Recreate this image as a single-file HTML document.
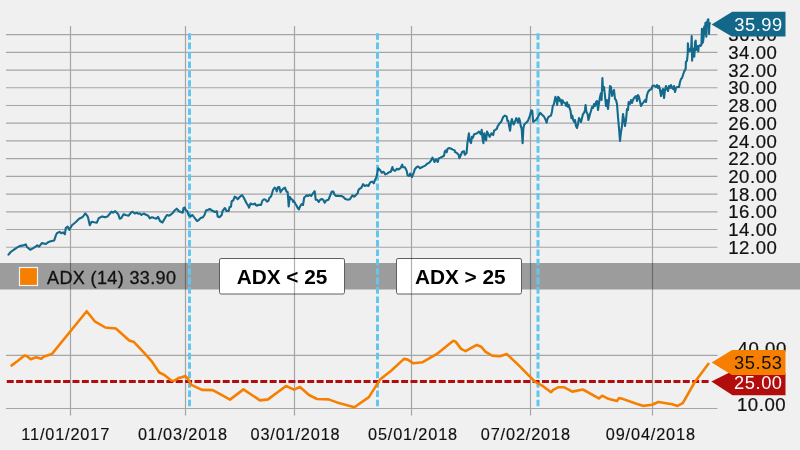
<!DOCTYPE html>
<html><head><meta charset="utf-8"><style>
html,body{margin:0;padding:0;background:#f0f0f0;width:800px;height:450px;overflow:hidden}
svg{display:block;will-change:transform}
</style></head><body>
<svg width="800" height="450" viewBox="0 0 800 450">
<rect x="0" y="0" width="800" height="450" fill="#f0f0f0"/>
<rect x="0" y="263" width="800" height="26.5" fill="#9c9c9c"/>
<rect x="219.5" y="258.5" width="125" height="35.5" rx="1.6" fill="#fff" stroke="#606060" stroke-width="1"/>
<rect x="396.5" y="258.5" width="125" height="35.5" rx="1.6" fill="#fff" stroke="#606060" stroke-width="1"/>
<path d="M6 34.60H717.5 M6 52.32H717.5 M6 70.04H717.5 M6 87.76H717.5 M6 105.48H717.5 M6 123.20H717.5 M6 140.92H717.5 M6 158.64H717.5 M6 176.36H717.5 M6 194.08H717.5 M6 211.80H717.5 M6 229.52H717.5 M6 247.24H717.5 M6 355.3H717.5 M6 408.5H717.5 M70.5 26V415.5 M185.5 26V415.5 M294.5 26V415.5 M411.5 26V415.5 M530.5 26V415.5 M652.5 26V415.5" fill="none" stroke="rgba(0,0,0,0.31)" stroke-width="1.2"/>
<line x1="189.5" y1="33.2" x2="189.5" y2="406.3" stroke="#62c6ee" stroke-width="3" stroke-dasharray="6.65 2.75"/>
<line x1="377.5" y1="33.2" x2="377.5" y2="406.3" stroke="#62c6ee" stroke-width="3" stroke-dasharray="6.65 2.75"/>
<line x1="538.0" y1="33.2" x2="538.0" y2="406.3" stroke="#62c6ee" stroke-width="3" stroke-dasharray="6.65 2.75"/>
<line x1="6.75" y1="381.5" x2="709" y2="381.5" stroke="#b20c0c" stroke-width="3.2" stroke-dasharray="6.95 2.44"/>
<polyline points="8.5,254.7 10.7,252 13.3,250.2 16.9,247.6 19.6,246.1 23.1,245.4 25.8,244.4 26.7,246.7 30.2,249.7 32.9,248.4 35.6,246.7 37.3,245.4 39.1,246.7 41.8,243.1 45.9,244 48,242.2 50.7,241.3 54.2,240.4 56,235.1 56.9,233.3 59.6,231.9 61.3,233.3 63.1,232.4 64.9,234.2 65.8,228 67.6,226.6 69.3,229.8 72,225.3 75.6,222.3 79.1,218.8 82.7,217 85.3,213.4 87.1,215.6 88,217.3 89.8,225.3 91.6,221.8 94.2,222.3 96.9,222.7 98.7,218.2 102.2,216.4 104.9,217.3 107.6,216.4 110,213.5 111.5,211.7 113,212.7 115.2,211.2 116.7,212.7 118.2,214.2 119.7,218.7 121.2,218.3 123.5,214.2 125.7,215 128.7,215.7 131,212.7 132.5,211.7 134.7,213.5 137,212.7 138.5,213.8 140,213.5 141.5,215 143.7,213.5 146,214.7 148.2,215.7 149.7,218.3 152,217.2 154.2,218 156.5,218.7 158,216.8 160,221 162.5,222.5 165.5,217.2 167,215 169.2,215.7 170.7,214.7 173,212.7 174.5,210.5 176.7,208.7 179,211.2 182.7,212.7 183.5,208.2 184.7,207.5 185.7,210.2 187.2,211.2 188.7,215 190.2,216.5 192.5,215 194.7,218 197,221 198.5,220.2 200.7,218 203,217.2 204.5,215 206,210.5 208.2,209.7 209.7,209 212,210.5 215,212 216.8,211.2 217.7,216.5 219.5,217.2 221.7,215 222.5,211.2 224.7,208.2 225,208 226.5,211 228.7,211 229.5,207.2 231,206.5 231.7,201.2 233.2,200.5 234.7,196.7 236.2,197.5 237.7,199.3 239.2,197.5 240.7,196 242.2,195.2 243.7,197.5 245.2,200.5 246.7,203.5 248.2,205.7 249,207.7 250.5,203.5 252,204.2 253.5,204.2 255,203.5 255.7,205 257.2,205.7 258.7,204.7 261,205 262.5,200.5 264,199.3 265.5,199.7 267,201.7 268.5,200.8 269.2,198.2 270.7,196.7 271.5,195.2 273,190 274.5,187.7 276,188.5 276.7,191.5 278.2,187 279.3,187 280.5,192.2 282,190 283.5,188.5 285,187.7 286.5,191.5 287.7,192.2 288.7,206.5 289.8,196.7 291,199 292.5,199.7 293.2,202 294,201.2 295.2,203.5 296.2,205 297.7,208 298.8,209.5 300,206.5 301.5,204.2 303,205 304.2,197.5 305.2,196.7 306.7,195.2 308.2,196 309.7,194.8 311.2,196 312.7,193.7 314.7,191.2 315.7,199.7 317.2,199.7 318.7,202 320.2,199.7 321.7,199 323.2,199.7 324.7,202.7 326.2,200.5 328.5,199.7 330,196 331.8,191.5 333.3,191.5 334.5,194.5 336,196 337.5,195.7 339.7,196 341.8,196.1 343.6,197.2 345.3,199 348,199.7 349.8,199.3 351.6,196.7 352.4,195.4 354.2,196.7 356,194.9 357.8,193.1 358.3,190.4 359.6,188.7 361.3,187.8 363.1,184.2 364.9,186 366.7,185.1 368.4,186 370.2,182.4 372,181.6 373.8,183.3 374.7,180.7 376.4,177.1 377.3,172.7 378.2,168.2 380,170 381.8,172.7 383.6,171.8 385.3,174.4 387.1,173.6 388.9,172.3 390.7,171.8 392.4,167 393.3,170 395.1,170.9 396.9,168.8 398.7,169.5 400.4,168.2 402.2,164.7 403.1,167.3 404.9,167.3 406.7,170.9 407.6,175.3 409.3,175.9 410.2,173.6 411.1,175.3 412,177.1 413.8,172.7 414.7,169.5 416.4,167.3 418.2,166.4 420,168.2 421.8,167.3 423.6,166.4 425.3,165.6 427.1,163.8 428.9,162.9 430.7,161.1 432.4,157.6 433.3,159.3 434.6,162 436,159.3 437.8,162 438.7,158.4 440.4,157.6 442.2,156.7 444,155.8 444.9,151.3 445.8,150.4 446.7,152.2 447.6,148.7 449.3,148.1 451.1,148.7 452.9,149.6 454.7,150.4 455,152 456.8,152.9 458.6,154.7 459.4,158.2 460.3,156.4 462.1,152 463.9,151.1 464.8,154.7 466.6,152.9 467.4,143.1 468.9,133.3 469.6,140.4 471,143.1 471.9,136.9 472.8,137.8 474.2,134.2 477.2,133.3 479,131.6 480.8,134.2 481.7,129.8 482.6,138.7 483.4,143.1 484.3,133.3 485.2,137.8 486.1,140.4 487,131.6 487.9,133.3 489.7,136.9 491.4,133.3 493.2,135.1 494.1,130.7 496.8,128.9 497.7,126.2 499.4,123.6 501.2,121.8 503,117.3 504.8,115.6 506.6,116.4 507.4,120.9 508.3,120.9 509.2,126.2 510.1,130.7 511,122.7 511.9,119.1 512.8,122.7 513.7,124.4 514.6,122.7 516.3,118.2 517.2,120 518.1,122.7 519,118.2 519.9,120.9 520.8,126.2 521.7,128.9 522.6,143.1 523.4,128 524.3,124.4 526.1,122.7 527.9,120.9 529.7,116.4 530.6,112.9 531.4,110.2 532.3,111.1 533.2,121.8 535.9,120 537.7,117.3 538.6,115.6 540.3,112.9 542.1,114.7 543.9,116.4 545.7,120 546.6,122.7 547.4,119.1 548.3,117.3 549.2,116.4 551,115.6 551.9,112 552.8,105.8 553.7,104.9 555.4,96.9 556.3,99.6 557.2,104.9 558.1,96.9 559,97.8 559.9,101.3 560.8,99.6 561.7,104.9 562.6,100.4 563.4,102.2 565.2,103.1 566.1,105.8 567,102.2 567.9,106.7 568.8,104.9 569.7,108.4 570.6,111.1 571.4,118.2 572.3,115.6 573.2,120 574.1,121.8 575,120 576,126 577,128 578,124 579,118 580,120 581,122 582,118 583,114 584,113 585,110 585.6,105 586.4,112 587.6,114 588.4,120 589,118 590,114 591,111 592,107 593,108 594,104 595,106 596,102 597,101 598,110 599,103 600,97 601,93 601.6,100 602.4,78 603,90 604,87 605,96 606,106 607,100 608,109 609,100 610,86 611,87 612,96 613,93 614,90 615,99 616,100 617,104 618,117 619,128 620,141 621,132 622,126 623,114 624,120 625,126 626,120 627,109 628,110 628.6,102 630,104 631,100 632,103 633,100 634,98 636,96 637,101 638,95 639,97 641,106 642,104 643,103 645,100 646,102 647,95 648,92 649.6,90 651.6,89 652.4,86 654,85.6 656,87 657,85 658,88 659,86 660,90 661,96 662,91 663,89 664,98 665,90 666,86 667,89 668,91 669,86 670,88 671,85 672,88 673,89 674,86 675,92 676,88 677,87 679,87 680,82 681,79 682,78 683,75 684,72 685,70 685.7,68.7 685.9,62 687,60.7 687.7,54 687.9,43.3 688.3,48.7 689,50 689.7,51.3 690.3,48.7 691,50 691.4,43.3 691.7,36 692.1,60.7 692.3,58 692.7,50 693.7,48.7 694.3,56.7 694.7,50 695,42 695.7,40.7 696.1,50 696.3,47.3 697,46 697.7,50 698.3,51.3 698.7,46 699.7,45.3 700.6,46 701.4,44.7 701.7,36.7 701.9,28.7 702.3,43.3 703,42 703.7,36.7 704.1,27.3 704.6,26 705,34 705.4,22.7 705.9,24.7 706.3,36.7 706.7,22 707.3,24.7 707.7,20 708.3,19.3 709,34 709.4,24.7 709.9,23.3" fill="none" stroke="#136a8c" stroke-width="2.1" stroke-linejoin="round" stroke-linecap="round"/>
<polyline points="10.7,366.1 17.3,361.3 24.5,355.5 26.7,356 30.7,359.2 36,357.3 41.3,358.7 44,356.5 52,353.9 86.7,311.2 94.7,321.3 105.3,327.5 115.9,328.5 129.2,340.5 134,342.1 144.7,353.3 151.3,360.8 159.3,372.5 164.7,375.2 171.3,380.5 174,380.8 178.8,377.9 182,377.3 185.2,376 187.9,378.7 191.3,384.8 202,389.9 212.7,390.1 222,395.2 230,399.6 243.4,389.4 260,400.4 268,399.4 286,386 294,389.6 300,387 309,395 317,399 328.6,399.4 337,402.4 354.4,407.3 368.9,397.1 380,379.6 391.1,370.7 404,358.9 407.8,359.6 413.3,363.3 422.7,362.2 437.8,353.3 453.3,340.7 455.6,341.6 461.1,348.9 465.6,351.1 476.7,344.9 481.1,346.7 485.6,351.8 492.2,355.6 500,356.2 506.7,354 517.8,364.4 528.9,375.6 535.6,382.2 542.2,385.6 551.1,392.2 553.2,389.9 558.5,387.2 563.8,387.2 572.3,391.6 582.9,389.5 598.9,398.4 602.1,395.7 607.4,398.4 616.9,401 619.1,398 623.3,399.1 635,403.3 643.5,405.9 652,404.8 658.4,402 672.2,404.2 677.5,405.9 682.8,403.1 694.5,382.5 709,363" fill="none" stroke="#f77f00" stroke-width="2.6" stroke-linejoin="round" stroke-linecap="butt"/>
<text x="777.5" y="41.2" font-family="Liberation Sans, sans-serif" font-size="18.6" letter-spacing="0.55" stroke="#111" stroke-width="0.2" text-anchor="end" fill="#111">36.00</text>
<text x="777.5" y="58.9" font-family="Liberation Sans, sans-serif" font-size="18.6" letter-spacing="0.55" stroke="#111" stroke-width="0.2" text-anchor="end" fill="#111">34.00</text>
<text x="777.5" y="76.6" font-family="Liberation Sans, sans-serif" font-size="18.6" letter-spacing="0.55" stroke="#111" stroke-width="0.2" text-anchor="end" fill="#111">32.00</text>
<text x="777.5" y="94.4" font-family="Liberation Sans, sans-serif" font-size="18.6" letter-spacing="0.55" stroke="#111" stroke-width="0.2" text-anchor="end" fill="#111">30.00</text>
<text x="777.5" y="112.1" font-family="Liberation Sans, sans-serif" font-size="18.6" letter-spacing="0.55" stroke="#111" stroke-width="0.2" text-anchor="end" fill="#111">28.00</text>
<text x="777.5" y="129.8" font-family="Liberation Sans, sans-serif" font-size="18.6" letter-spacing="0.55" stroke="#111" stroke-width="0.2" text-anchor="end" fill="#111">26.00</text>
<text x="777.5" y="147.5" font-family="Liberation Sans, sans-serif" font-size="18.6" letter-spacing="0.55" stroke="#111" stroke-width="0.2" text-anchor="end" fill="#111">24.00</text>
<text x="777.5" y="165.2" font-family="Liberation Sans, sans-serif" font-size="18.6" letter-spacing="0.55" stroke="#111" stroke-width="0.2" text-anchor="end" fill="#111">22.00</text>
<text x="777.5" y="183.0" font-family="Liberation Sans, sans-serif" font-size="18.6" letter-spacing="0.55" stroke="#111" stroke-width="0.2" text-anchor="end" fill="#111">20.00</text>
<text x="777.5" y="200.7" font-family="Liberation Sans, sans-serif" font-size="18.6" letter-spacing="0.55" stroke="#111" stroke-width="0.2" text-anchor="end" fill="#111">18.00</text>
<text x="777.5" y="218.4" font-family="Liberation Sans, sans-serif" font-size="18.6" letter-spacing="0.55" stroke="#111" stroke-width="0.2" text-anchor="end" fill="#111">16.00</text>
<text x="777.5" y="236.1" font-family="Liberation Sans, sans-serif" font-size="18.6" letter-spacing="0.55" stroke="#111" stroke-width="0.2" text-anchor="end" fill="#111">14.00</text>
<text x="777.5" y="253.8" font-family="Liberation Sans, sans-serif" font-size="18.6" letter-spacing="0.55" stroke="#111" stroke-width="0.2" text-anchor="end" fill="#111">12.00</text>
<text x="786.8" y="354.6" font-family="Liberation Sans, sans-serif" font-size="18.6" letter-spacing="0.55" stroke="#111" stroke-width="0.2" text-anchor="end" fill="#111">40.00</text>
<text x="786.2" y="411.4" font-family="Liberation Sans, sans-serif" font-size="18.6" letter-spacing="0.55" stroke="#111" stroke-width="0.2" text-anchor="end" fill="#111">10.00</text>
<text x="65.7" y="439.5" font-family="Liberation Sans, sans-serif" font-size="16.3" letter-spacing="0.85" stroke="#111" stroke-width="0.15" text-anchor="middle" fill="#111">11/01/2017</text>
<text x="182.9" y="439.5" font-family="Liberation Sans, sans-serif" font-size="16.3" letter-spacing="0.85" stroke="#111" stroke-width="0.15" text-anchor="middle" fill="#111">01/03/2018</text>
<text x="295.5" y="439.5" font-family="Liberation Sans, sans-serif" font-size="16.3" letter-spacing="0.85" stroke="#111" stroke-width="0.15" text-anchor="middle" fill="#111">03/01/2018</text>
<text x="413.0" y="439.5" font-family="Liberation Sans, sans-serif" font-size="16.3" letter-spacing="0.85" stroke="#111" stroke-width="0.15" text-anchor="middle" fill="#111">05/01/2018</text>
<text x="525.8" y="439.5" font-family="Liberation Sans, sans-serif" font-size="16.3" letter-spacing="0.85" stroke="#111" stroke-width="0.15" text-anchor="middle" fill="#111">07/02/2018</text>
<text x="650.8" y="439.5" font-family="Liberation Sans, sans-serif" font-size="16.3" letter-spacing="0.85" stroke="#111" stroke-width="0.15" text-anchor="middle" fill="#111">09/04/2018</text>
<rect x="19.5" y="267.5" width="18" height="18" fill="#f77f00" stroke="#f4f4f4" stroke-width="1.2"/>
<text x="47" y="283.6" font-family="Liberation Sans, sans-serif" font-size="18" letter-spacing="0.38" stroke="#111" stroke-width="0.3" fill="#111">ADX (14) 33.90</text>
<text x="282" y="284" font-family="Liberation Sans, sans-serif" font-size="20.8" font-weight="bold" text-anchor="middle" fill="#000">ADX &lt; 25</text>
<text x="460.3" y="284" font-family="Liberation Sans, sans-serif" font-size="20.8" font-weight="bold" text-anchor="middle" fill="#000">ADX &gt; 25</text>
<polygon points="711.6,24.4 732.2,11.8 785.5,11.8 785.5,36.4 731.8,36.4" fill="#13688a"/>
<text x="782.8" y="30.5" font-family="Liberation Sans, sans-serif" font-size="18.3" letter-spacing="0.55" text-anchor="end" fill="#fff">35.99</text>
<polygon points="711.4,381.4 728.5,373 785.5,373 785.5,395.2 732.5,395.2" fill="#b20c0c"/>
<polygon points="711.6,362.5 732,350 785.5,350 785.5,375 732,375" fill="#f77f00"/>
<text x="782.6" y="368.5" font-family="Liberation Sans, sans-serif" font-size="18.3" letter-spacing="0.55" text-anchor="end" fill="#111">35.53</text>
<text x="782.6" y="389" font-family="Liberation Sans, sans-serif" font-size="18.3" letter-spacing="0.55" text-anchor="end" fill="#fff">25.00</text>
</svg>
</body></html>
